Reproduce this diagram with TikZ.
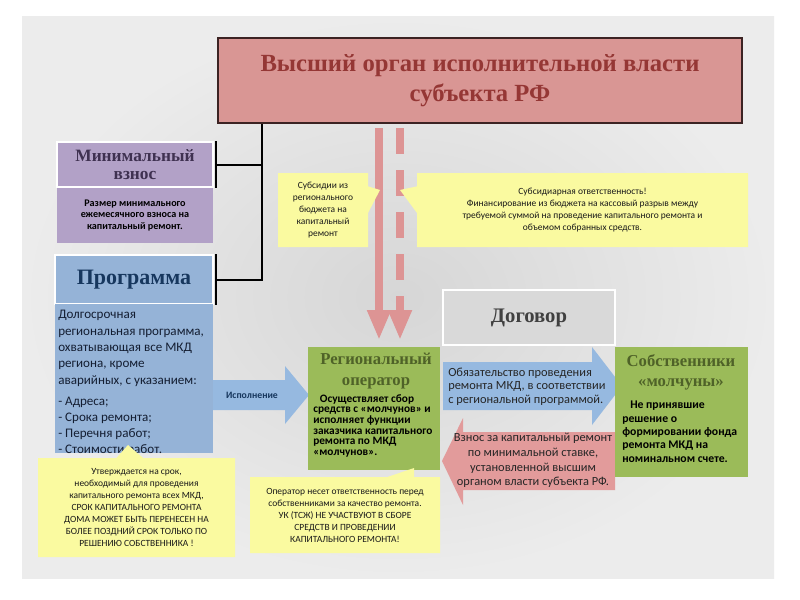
\documentclass[tikz,border=0pt]{standalone}
\usepackage{fontspec}
\setmainfont{Liberation Serif}
\newfontfamily\bodyf{Carlito}
\usetikzlibrary{arrows.meta,shapes.callouts}
\definecolor{redbox}{RGB}{217,150,148}
\definecolor{redtxt}{RGB}{149,55,53}
\definecolor{lav}{RGB}{178,161,199}
\definecolor{lavtxt}{RGB}{63,49,81}
\definecolor{bluebox}{RGB}{149,179,215}
\definecolor{bluetxt}{RGB}{23,55,94}
\definecolor{bluearr}{RGB}{150,185,224}
\definecolor{greenbox}{RGB}{155,187,89}
\definecolor{greentxt}{RGB}{79,98,40}
\definecolor{redarr}{RGB}{226,155,155}
\definecolor{downarr}{RGB}{221,148,148}
\definecolor{yel}{RGB}{250,250,160}
\definecolor{graybox}{RGB}{217,217,217}
\definecolor{slidein}{RGB}{214,214,214}
\definecolor{slideout}{RGB}{236,236,236}
\tikzset{
  box/.style={rectangle, inner sep=0pt},
  conn/.style={draw=black, line width=1.5pt},
  tick/.style={draw=black, line width=2pt},
  callbox/.style={rectangle callout, fill=yel, inner sep=0pt, callout pointer width=20pt, align=center, font=\bodyf\fontsize{7.1}{9}\selectfont, text=black!90},
  down/.style={draw=downarr, line width=6pt, -{Triangle[width=16.5pt,length=22.5pt]}},
  txt/.style={inner sep=0pt, align=center}
}
\begin{document}
\begin{tikzpicture}[x=0.75pt,y=-0.75pt]
\useasboundingbox (0,0) rectangle (800,600);
\fill[white] (0,0) rectangle (800,600);
\shade[inner color=slidein, outer color=slideout] (22,16) rectangle (774,578);

% top box
\node[box, fill=redbox, draw={rgb,255:red,60;green,35;blue,35}, line width=2pt,
  minimum width={524*0.75pt}, minimum height={85*0.75pt}, align=center,
  font=\bfseries\fontsize{18.5}{22.5}\selectfont, text=redtxt] (top) at (480,80.5)
  {Высший орган исполнительной власти\\субъекта РФ};

% minimal contribution
\node[box, fill=lav, draw=white, line width=1.5pt, minimum width={156*0.75pt}, minimum height={45*0.75pt},
  align=center, font=\bfseries\fontsize{13}{13.5}\selectfont, text=lavtxt] (mvh) at (135,164.5)
  {Минимальный\\взнос};
\node[box, fill=lav, minimum width={156*0.75pt}, minimum height={55*0.75pt}, align=center,
  font=\bodyf\bfseries\fontsize{7.6}{8.3}\selectfont] (mvb) at (135,215.5)
  {Размер минимального\\ежемесячного взноса на\\капитальный ремонт.};

% programme
\node[box, fill=bluebox, draw=white, line width=1.5pt, minimum width={158*0.75pt}, minimum height={49*0.75pt},
  font=\bfseries\fontsize{16.5}{18}\selectfont, text=bluetxt] (prh) at (134,279.5) {Программа};
\node[box, fill=bluebox, minimum width={158*0.75pt}, minimum height={149*0.75pt}] (prb) at (134,378.5) {};
\node[txt, anchor=north west, align=left, font=\bodyf\fontsize{9.8}{12.3}\selectfont, text={rgb,255:red,20;green,30;blue,50}] (prt) at (58,310)
  {Долгосрочная\\региональная программа,\\охватывающая все МКД\\региона, кроме\\аварийных, с указанием:\\[4pt]
   - Адреса;\\[-0.5pt] - Срока ремонта;\\[-0.5pt] - Перечня работ;\\[-0.5pt] - Стоимости работ.};

% execution arrow
\fill[bluearr] (213,380) -- (285,380) -- (285,366) -- (309,395) -- (285,424) -- (285,410) -- (213,410) -- cycle;
\node[txt, font=\bodyf\bfseries\fontsize{7.3}{8}\selectfont, text=bluetxt] (ex) at (252,395) {Исполнение};

% contract
\node[box, fill=graybox, draw=white, line width=1.5pt, minimum width={172*0.75pt}, minimum height={55*0.75pt},
  font=\bfseries\fontsize{15.5}{17}\selectfont, text=black!75] (dog) at (529,317.5) {Договор};

% blue arrow right
\fill[bluearr] (443,362) -- (592,362) -- (592,347) -- (622,386) -- (592,425) -- (592,410) -- (443,410) -- cycle;
\node[txt, anchor=west, align=left, font=\bodyf\fontsize{9.3}{10}\selectfont, text=black!85] (obl) at (448,386.5)
  {Обязательство проведения\\ремонта МКД, в соответствии\\с региональной программой.};

% red arrow left
\fill[redarr] (615,432) -- (463,432) -- (463,418) -- (442,461) -- (463,505) -- (463,490) -- (615,490) -- cycle;
\node[txt, font=\bodyf\fontsize{9.3}{11}\selectfont, text=black!85] (vz) at (533,460.5)
  {Взнос за капитальный ремонт\\по минимальной ставке,\\установленной высшим\\органом власти субъекта РФ.};

% regional operator
\node[box, fill=greenbox, minimum width={132*0.75pt}, minimum height={123*0.75pt}] (op) at (374,408.5) {};
\node[txt, font=\bfseries\fontsize{12.5}{16}\selectfont, text=greentxt] (oph) at (376,371) {Региональный\\оператор};
\node[txt, anchor=north west, align=left, font=\bodyf\bfseries\fontsize{8.5}{8}\selectfont] (opt) at (313,394)
  {\hspace*{5pt}Осуществляет сбор\\средств с «молчунов» и\\исполняет функции\\заказчика капитального\\ремонта по МКД\\«молчунов».};

% owners
\node[box, fill=greenbox, minimum width={133*0.75pt}, minimum height={130*0.75pt}] (ow) at (681.5,412) {};
\node[txt, font=\bfseries\fontsize{12.5}{15}\selectfont, text=greentxt] (owh) at (681,372.5) {Собственники\\«молчуны»};
\node[txt, anchor=north west, align=left, font=\bodyf\bfseries\fontsize{8.8}{10}\selectfont] (owt) at (622,401)
  {\hspace*{6pt}Не принявшие\\решение о\\формировании фонда\\ремонта МКД на\\номинальном счете.};

% black connectors
\coordinate (cx) at (262,0);
\draw[conn] (top.south -| cx) -- (cx |- prh.east) -- ([xshift=1.5pt]prh.east);
\draw[conn] (cx |- mvh.east) -- ([xshift=1.5pt]mvh.east);
\draw[tick] ([xshift=1.5pt]mvh.north east) -- ([xshift=1.5pt]mvh.south east);
\draw[tick] ([xshift=1.5pt]prh.north east) -- ([xshift=1.5pt]prh.south east);

% downward arrows
\coordinate (a1) at (379,0);
\coordinate (a2) at (400,0);
\draw[down, shorten <=3pt, shorten >=5pt] (top.south -| a1) -- (op.north -| a1);
\draw[down, dash pattern=on 19pt off 12.5pt, shorten <=3pt, shorten >=5pt] (top.south -| a2) -- (op.north -| a2);

% callouts
\node[callbox, minimum width={90*0.75pt}, minimum height={74*0.75pt}, callout absolute pointer={(380,190)}] (c1) at (323,210)
  {Субсидии из\\регионального\\бюджета на\\капитальный\\ремонт};
\node[callbox, minimum width={331*0.75pt}, minimum height={74*0.75pt}, callout absolute pointer={(400,190)}] (c2) at (582.5,210)
  {Субсидиарная ответственность!\\Финансирование из бюджета на кассовый разрыв между\\требуемой суммой на проведение капитального ремонта и\\объемом собранных средств.};
\node[callbox, minimum width={197*0.75pt}, minimum height={99*0.75pt}, callout absolute pointer={(128,445)}] (c3) at (136.5,507.5)
  {Утверждается на срок,\\необходимый для проведения\\капитального ремонта всех МКД,\\СРОК КАПИТАЛЬНОГО РЕМОНТА\\ДОМА МОЖЕТ БЫТЬ ПЕРЕНЕСЕН НА\\БОЛЕЕ ПОЗДНИЙ СРОК  ТОЛЬКО ПО\\РЕШЕНИЮ СОБСТВЕННИКА !};
\node[callbox, minimum width={190*0.75pt}, minimum height={76*0.75pt}, callout absolute pointer={(414,468)}] (c4) at (345,515)
  {Оператор несет ответственность перед\\собственниками за качество ремонта.\\УК (ТСЖ) НЕ УЧАСТВУЮТ В СБОРЕ\\СРЕДСТВ И ПРОВЕДЕНИИ\\КАПИТАЛЬНОГО РЕМОНТА!};
\end{tikzpicture}
\end{document}
